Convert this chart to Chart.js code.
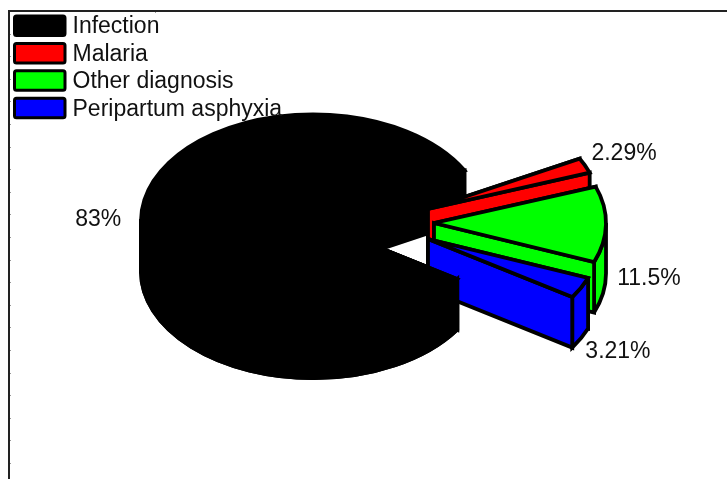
<!DOCTYPE html>
<html>
<head>
<meta charset="utf-8">
<title>Diagnosis share</title>
<style>
  html, body { margin: 0; padding: 0; background: #fff; }
  canvas { display: block; }
</style>
<script src="https://cdn.jsdelivr.net/npm/chart.js@4"></script>
</head>
<body>
<canvas id="chart1" width="727" height="479"></canvas>
<script>
const categories = ["Infection", "Malaria", "Other diagnosis", "Peripartum asphyxia"];
const shares = [83, 2.29, 11.5, 3.21];
const shareLabels = ["83%", "2.29%", "11.5%", "3.21%"];

const sliceColors = ["#000000", "#ff0000", "#00ff00", "#0000ff"];
const FONT = '23px "Liberation Sans", Arial, sans-serif';
const SQUASH = 0.62;   // ellipse height / width of the tilted disc
const DEPTH = 50.5;    // height of the disc wall
const OUTLINE = 3.8;

// how far each slice is pulled out of the disc, and where its label sits
const pullOut = [[0, 0], [115, -12], [121, 2], [115, 18]];
const labelNudge = [[-43, 3], [39, -12], [43, 54], [37, 64]];

function paint(ctx, color) {
  ctx.fillStyle = color;
  ctx.fill();
  ctx.stroke();
}

function cutWall(ctx, x, y, r, angle, color) {
  const rimX = x + r * Math.cos(angle);
  const rimY = y + r * SQUASH * Math.sin(angle);
  ctx.beginPath();
  ctx.moveTo(x, y);
  ctx.lineTo(rimX, rimY);
  ctx.lineTo(rimX, rimY + DEPTH);
  ctx.lineTo(x, y + DEPTH);
  ctx.closePath();
  paint(ctx, color);
}

// only the part of the rim facing the viewer (0..PI, once per turn) gets a wall
function rimWall(ctx, x, y, r, start, end, color) {
  for (let turn = 0; turn < 2; turn++) {
    const from = Math.max(start, turn * 2 * Math.PI);
    const to = Math.min(end, turn * 2 * Math.PI + Math.PI);
    if (from >= to) continue;
    ctx.beginPath();
    ctx.ellipse(x, y, r, r * SQUASH, 0, from, to);
    ctx.ellipse(x, y + DEPTH, r, r * SQUASH, 0, to, from, true);
    ctx.closePath();
    paint(ctx, color);
  }
}

function drawPiece(ctx, x, y, r, start, end, color) {
  cutWall(ctx, x, y, r, start, color);
  rimWall(ctx, x, y, r, start, end, color);
  cutWall(ctx, x, y, r, end, color);
  ctx.beginPath();
  ctx.moveTo(x, y);
  ctx.ellipse(x, y, r, r * SQUASH, 0, start, end);
  ctx.closePath();
  paint(ctx, color);
}

const tiltedPie = {
  id: "tiltedPie",
  // the library keeps computing the arcs, only the painting is replaced
  beforeDatasetDraw(chart, args) {
    const ctx = chart.ctx;
    const arcs = args.meta.data.map((arc) => arc.getProps(["x", "y", "startAngle", "endAngle", "outerRadius"], true));
    ctx.save();
    ctx.strokeStyle = "#000";
    ctx.lineWidth = OUTLINE;
    ctx.lineJoin = "miter";
    ctx.miterLimit = 3;

    const big = arcs[0];
    drawPiece(ctx, big.x, big.y, big.outerRadius, big.startAngle, big.endAngle, sliceColors[0]);
    for (let i = 1; i < arcs.length; i++) {
      const a = arcs[i];
      drawPiece(ctx, a.x + pullOut[i][0], a.y + pullOut[i][1], a.outerRadius, a.startAngle, a.endAngle, sliceColors[i]);
    }
    // front half of the big slice hides the wall of the last one
    drawPiece(ctx, big.x, big.y, big.outerRadius, big.startAngle, Math.PI, sliceColors[0]);

    ctx.font = FONT;
    ctx.fillStyle = "#111";
    ctx.textAlign = "center";
    ctx.textBaseline = "middle";
    arcs.forEach((a, i) => {
      const mid = (a.startAngle + a.endAngle) / 2;
      const lx = a.x + pullOut[i][0] + a.outerRadius * Math.cos(mid) + labelNudge[i][0];
      const ly = a.y + pullOut[i][1] + a.outerRadius * SQUASH * Math.sin(mid) + labelNudge[i][1];
      ctx.fillText(shareLabels[i], lx, ly);
    });
    ctx.restore();
    return false;
  },
  afterDraw(chart) {
    const ctx = chart.ctx;
    ctx.save();

    // axis frame left over at the top and left edges
    ctx.strokeStyle = "#222";
    ctx.lineWidth = 2;
    ctx.beginPath();
    ctx.moveTo(9, 479);
    ctx.lineTo(9, 11);
    ctx.lineTo(727, 11);
    ctx.stroke();
    ctx.strokeStyle = "#999";
    ctx.lineWidth = 1;
    ctx.beginPath();
    for (let y = 463; y > 12; y -= 22.6) {
      ctx.moveTo(10, Math.round(y) + 0.5);
      ctx.lineTo(11, Math.round(y) + 0.5);
    }
    ctx.moveTo(155.5, 12);
    ctx.lineTo(155.5, 13);
    ctx.stroke();

    // legend
    ctx.font = FONT;
    ctx.textAlign = "left";
    ctx.textBaseline = "middle";
    categories.forEach((name, i) => {
      const top = 16 + i * 27.4;
      ctx.beginPath();
      ctx.roundRect(14.5, top, 50.5, 19.5, 2);
      ctx.fillStyle = sliceColors[i];
      ctx.fill();
      ctx.strokeStyle = "#000";
      ctx.lineWidth = 3;
      ctx.stroke();
      ctx.fillStyle = "#111";
      ctx.fillText(name, 72.5, top + 11);
    });
    ctx.restore();
  },
};

new Chart(document.getElementById("chart1"), {
  type: "pie",
  data: {
    labels: categories,
    datasets: [{ data: shares, backgroundColor: sliceColors, borderWidth: 0 }],
  },
  options: {
    responsive: false,
    animation: false,
    rotation: 123,
    layout: { padding: { left: 141, right: 242, top: 49, bottom: 86 } },
    plugins: { legend: { display: false }, tooltip: { enabled: false } },
  },
  plugins: [tiltedPie],
});
</script>
</body>
</html>
